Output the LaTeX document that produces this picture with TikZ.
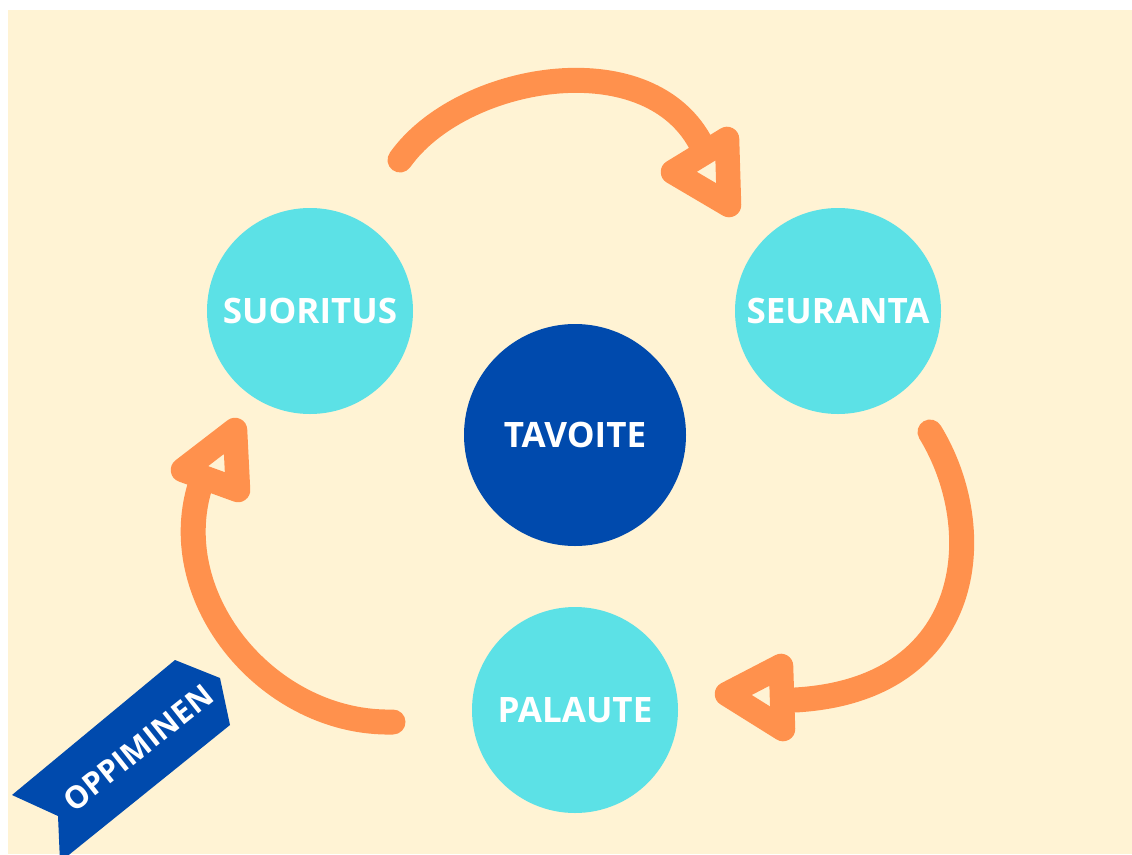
\documentclass[tikz,border=0pt]{standalone}
\usepackage{fontspec}
\setsansfont{Open Sans}
\definecolor{cream}{HTML}{FFF3D4}
\definecolor{orng}{HTML}{FF914D}
\definecolor{cyanc}{HTML}{5CE1E6}
\definecolor{navy}{HTML}{004AAD}
\tikzset{
  lbl/.style={font=\sffamily\bfseries\fontsize{35}{42}\selectfont, text=white},
  small/.style={circle, fill=cyanc, minimum size=206pt, inner sep=0pt, lbl},
  big/.style={circle, fill=navy, minimum size=222pt, inner sep=0pt, lbl},
  flow/.style={draw=orng, line width=25pt, line cap=round},
  head/.style={draw=orng, line width=24.5pt, line join=round},
}
\begin{document}
\begin{tikzpicture}[x=1pt,y=-1pt]
\useasboundingbox (0,0) rectangle (1132,854);
\clip (0,0) rectangle (1132,854);
\fill[white] (0,0) rectangle (1132,854);
\fill[cream] (8,10) rectangle (1132,854);
% circles
\node[small] (suor) at (310,311) {SUORITUS};
\node[small] (seur) at (838,311) {SEURANTA};
\node[big] (tav) at (575,435) {TAVOITE};
\node[small] (pal) at (575,710) {PALAUTE};
% top arc
\coordinate (a1) at (400,160);
\coordinate (a2) at (700,142);
\draw[flow] (a1) .. controls (460,75) and (645,42) .. (a2);
\coordinate (h1a) at (673,172); \coordinate (h1b) at (727,139); \coordinate (h1c) at (729,205);
\draw[head] (h1a) -- (h1b) -- (h1c) -- cycle;
% right arc
\coordinate (b1) at (930,432);
\coordinate (b2) at (795,700);
\draw[flow] (b1) .. controls (990,530) and (975,690) .. (b2);
\coordinate (h2a) at (727,694); \coordinate (h2b) at (781,666); \coordinate (h2c) at (783,729);
\draw[head] (h2a) -- (h2b) -- (h2c) -- cycle;
% left arc
\coordinate (c1) at (393,722);
\coordinate (c2) at (200,486);
\draw[flow] (c1) .. controls (270,725) and (165,600) .. (c2);
\coordinate (h3a) at (183,470); \coordinate (h3b) at (235,430); \coordinate (h3c) at (238,490);
\draw[head] (h3a) -- (h3b) -- (h3c) -- cycle;
% ribbon
\fill[navy] (12,795) -- (175,660) -- (220,678) -- (230,725) -- (60,862) -- (58,816) -- cycle;
\node[lbl, font=\sffamily\bfseries\fontsize{31}{36}\selectfont, rotate=38.5] (opp) at (138,748) {OPPIMINEN};
\end{tikzpicture}
\end{document}
